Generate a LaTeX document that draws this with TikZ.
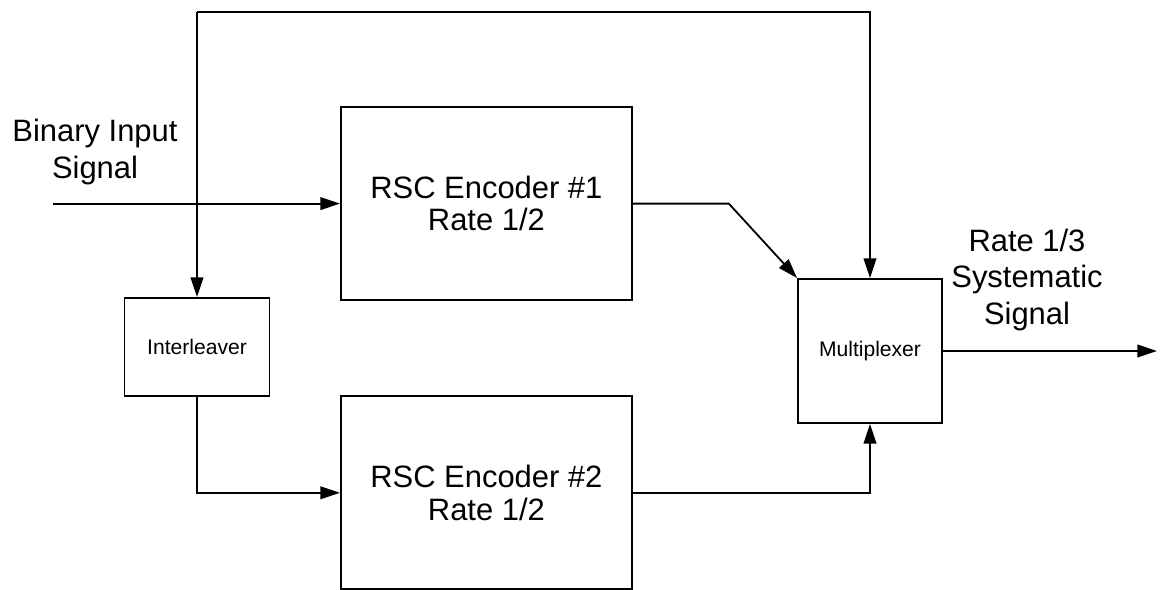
\documentclass[tikz,border=0pt]{standalone}
\usepackage{fontspec}
\setmainfont{Liberation Sans}
\usetikzlibrary{arrows.meta}

\begin{document}
\begin{tikzpicture}[line width=1.3pt, >={Triangle[length=14pt, width=9pt]},
  block/.style={draw, line width=1.3pt, inner sep=0pt, align=center},
  bigtext/.style={font=\fontsize{22}{23}\selectfont},
  smalltext/.style={font=\fontsize{15}{17}\selectfont}]
  \useasboundingbox (0,0) rectangle (29,14.75);

  % the two constituent encoders
  \node[block, bigtext, minimum width=7.275cm, minimum height=4.825cm] (enc1) at (12.16,9.66)
    {RSC Encoder \#1\\ Rate 1/2};
  \node[block, bigtext, minimum width=7.275cm, minimum height=4.825cm] (enc2) at (12.16,2.43)
    {RSC Encoder \#2\\ Rate 1/2};

  \node[block, smalltext, minimum width=3.625cm, minimum height=2.45cm] (il) at (4.925,6.075)
    {Interleaver};
  \node[block, smalltext, minimum width=3.6cm, minimum height=3.6cm] (mux) at (21.75,5.975)
    {Multiplexer};

  \node[align=center, font=\fontsize{22}{27}\selectfont] (inlabel) at (2.375,10.95)
    {Binary Input\\ Signal};
  \node[align=center, font=\fontsize{22}{26}\selectfont] (outlabel) at (25.675,7.75)
    {Rate 1/3\\ Systematic\\ Signal};

  \coordinate (src) at (1.325,9.66);
  \coordinate (split) at (4.925,14.45);
  \coordinate (sink) at (28.925,5.975);

  \draw[->] (src) -- (enc1.west);
  \draw[->] (split) -- (il.north);
  \draw[->] (split) -| (mux.north);
  \draw[->] (il.south) |- (enc2.west);
  \draw[->] (enc1.east) -- ++(2.4,0) -- (mux.north west);
  \draw[->] (enc2.east) -| (mux.south);
  \draw[->] (mux.east) -- (sink);
\end{tikzpicture}
\end{document}
